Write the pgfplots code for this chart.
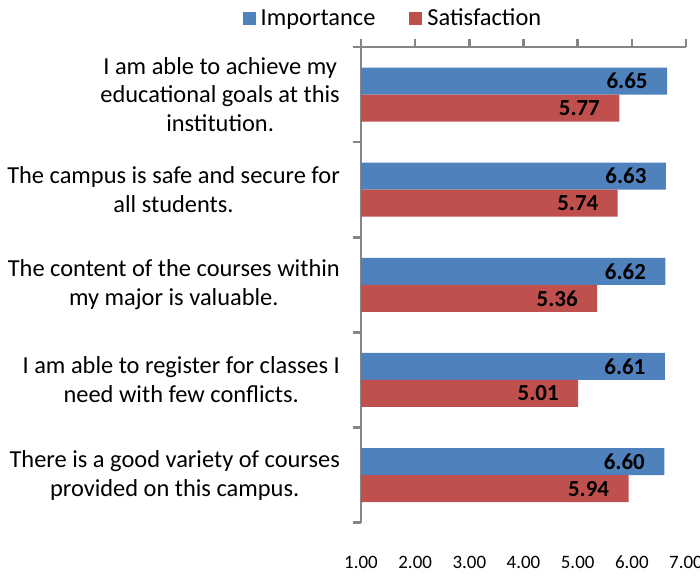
\documentclass[border=0pt]{standalone}
\usepackage{fontspec}
\setmainfont{Carlito}
\usepackage{pgfplots}
\pgfplotsset{compat=1.18}
\definecolor{impblue}{RGB}{79,129,189}
\definecolor{satred}{RGB}{192,80,77}
\definecolor{axgray}{RGB}{134,134,134}
\begin{document}
\begin{tikzpicture}
\useasboundingbox (0,0) rectangle (700bp,576bp);
\begin{axis}[
  at={(361bp,53.3bp)}, anchor=south west,
  scale only axis, width=325bp, height=475.7bp,
  xmin=1, xmax=7, ymin=-0.5, ymax=4.5,
  xbar, bar width=27bp,
  axis x line*=top, axis y line*=left,
  axis line style={axgray, line width=2.5bp},
  tick align=outside,
  xtick={1,...,7},
  x tick style={axgray, line width=2.5bp},
  major tick length=8bp,
  /pgf/number format/assume math mode=true,
  xticklabel={\pgfmathprintnumber[fixed,fixed zerofill,precision=2]{\tick}},
  xticklabel style={anchor=center, yshift=-523bp, font=\fontsize{19}{19}\selectfont},
  ytick={0,...,4},
  yticklabels={{There is a good variety of courses\\provided on this campus.},
               {I am able to register for classes I\\need with few conflicts.},
               {The content of the courses within\\my major is valuable.},
               {The campus is safe and secure for\\all students.},
               {I am able to achieve my\\educational goals at this\\institution.}},
  yticklabel style={align=center, anchor=east, inner sep=0pt, xshift=-13bp, font=\fontsize{24.5}{29}\selectfont},
  y tick style={draw=none},
  extra y ticks={-0.5,0.5,1.5,2.5,3.5,4.5},
  extra y tick labels={},
  extra y tick style={y tick style={draw=axgray, line width=2.5bp}},
  nodes near coords={\pgfmathprintnumber[fixed,fixed zerofill,precision=2]{\pgfplotspointmeta}},
  point meta=x,
  nodes near coords style={anchor=east, xshift=-16bp, text=black, font=\fontsize{23}{23}\bfseries\selectfont},
  legend style={at={(0.0985,1.061)}, anchor=center, draw=none, fill=none,
     legend columns=2, font=\fontsize{24.5}{24.5}\selectfont,
     /tikz/every even column/.append style={column sep=32bp}},
]
\addplot[fill=impblue, draw=none, bar shift=13.5bp,
  legend image code/.code={\fill[impblue] (0bp,-7bp) rectangle (13bp,6bp); \path (0bp,0bp) -- (16bp,0bp);}]
  coordinates {(6.65,4) (6.63,3) (6.62,2) (6.61,1) (6.60,0)};
\addlegendentry{Importance}
\addplot[fill=satred, draw=none, bar shift=-13.5bp,
  legend image code/.code={\fill[satred] (0bp,-7bp) rectangle (13bp,6bp); \path (0bp,0bp) -- (16bp,0bp);}]
  coordinates {(5.77,4) (5.74,3) (5.36,2) (5.01,1) (5.94,0)};
\addlegendentry{Satisfaction}
\end{axis}
\end{tikzpicture}
\end{document}
